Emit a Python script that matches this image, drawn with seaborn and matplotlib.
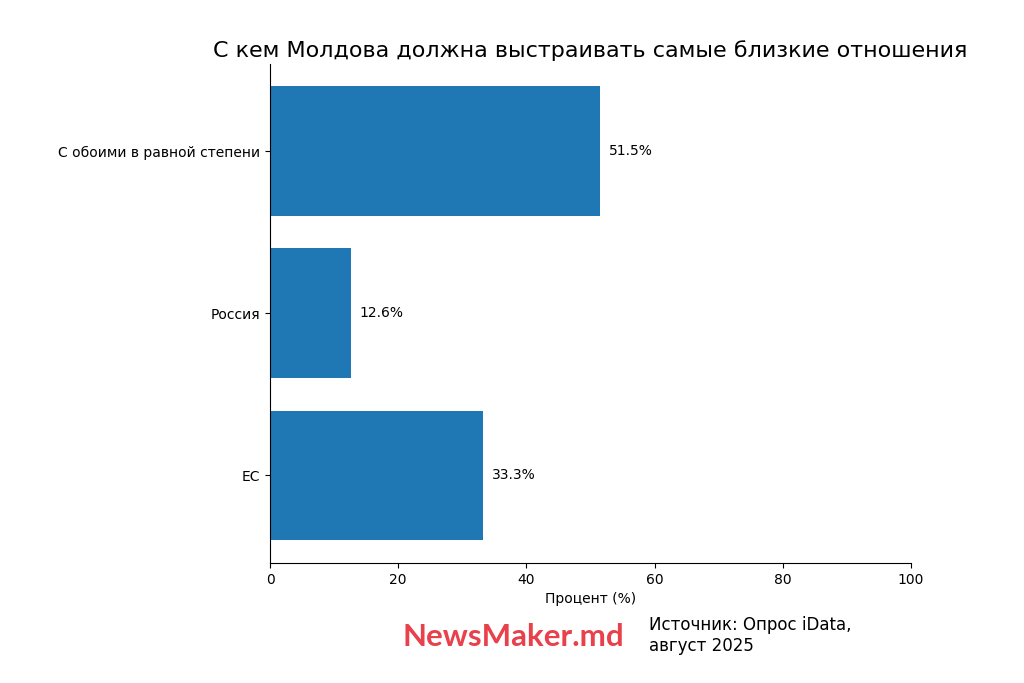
import matplotlib
matplotlib.use("Agg")
import matplotlib.pyplot as plt
import seaborn as sns
import pandas as pd

# ========== Data ==========
categories = ["С обоими в равной степени", "Россия", "ЕС"]
values = [51.5, 12.6, 33.3]
x_ticks = [0, 20, 40, 60, 80, 100]

title = "С кем Молдова должна выстраивать самые близкие отношения"
source_text = "Источник: Опрос iData,\nавгуст 2025"
brand = "NewsMaker.md"

df = pd.DataFrame({"category": categories, "value": values})

# ========== Plot ==========
fig = plt.figure(figsize=(10.24, 6.83), dpi=100)
ax = fig.add_axes([0.2637, 0.1757, 0.6259, 0.7313])

sns.barplot(data=df, x="value", y="category", orient="h", color="#1f77b4",
            saturation=1, width=0.8, ax=ax)

for i, v in enumerate(values):
    ax.text(v + 1.4, i, f"{v}%", va="center", ha="left", fontsize=10)

ax.set_xlim(0, 100)
ax.set_ylim(len(categories) - 1 + 0.54, -0.54)
ax.set_xticks(x_ticks)
ax.set_xlabel("Процент (%)", fontsize=10)
ax.set_ylabel("")
ax.tick_params(labelsize=10)
ax.spines["top"].set_visible(False)
ax.spines["right"].set_visible(False)
ax.set_title(title, fontsize=16, pad=5)

fig.text(0.393, 0.054, brand, fontsize=22.5, fontweight="bold", color="#e8414b",
         family="Lato", ha="left", va="baseline")
fig.text(0.634, 0.047, source_text, fontsize=12, ha="left", va="baseline",
         linespacing=1.2)

fig.savefig("out.png", dpi=100)
